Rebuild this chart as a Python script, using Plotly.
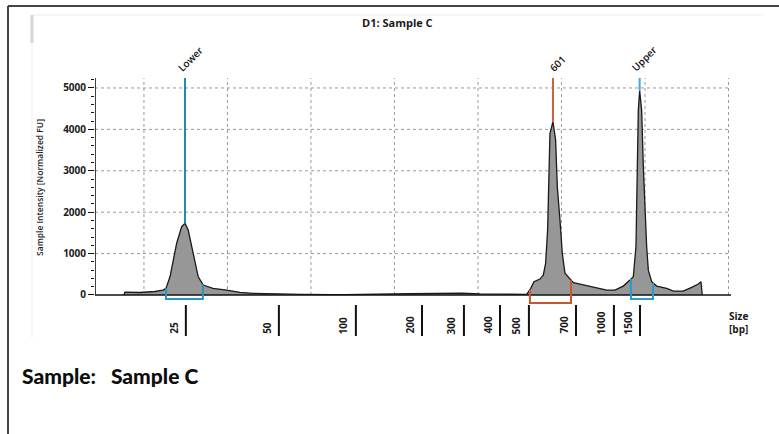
import numpy as np
import plotly.graph_objects as go

# Electropherogram trace: migration time (s) vs. normalized fluorescence
mig_time = [18.80, 18.86, 19.76, 20.66, 21.14, 21.32, 21.56, 21.74, 21.96, 22.26,
            22.46, 22.65, 22.86, 23.05, 23.25, 23.55, 24.13, 24.95, 25.75, 26.53,
            28.32, 29.34, 31.32, 31.56, 32.04, 35.93, 37.72, 39.04, 40.12, 41.92,
            42.92, 43.16, 43.35, 43.71, 43.91, 44.05, 44.17, 44.31, 44.49, 44.65,
            44.75, 44.91, 45.05, 45.21, 45.51, 45.71, 46.11, 46.91, 47.71, 48.20,
            48.70, 49.10, 49.30, 49.46, 49.60, 49.68, 49.80, 49.90, 50.00, 50.10,
            50.20, 50.40, 50.70, 51.30, 51.70, 52.29, 52.80, 53.19, 53.35, 53.43]
intensity = [0, 70, 60, 85, 120, 160, 440, 845, 1250, 1650,
             1730, 1570, 1170, 765, 440, 240, 160, 120, 65, 40,
             20, 15, 10, 15, 10, 30, 35, 45, 25, 10,
             15, 160, 320, 385, 480, 765, 1570, 3900, 4185, 3740,
             2615, 1810, 1005, 525, 380, 300, 265, 200, 120, 120,
             215, 360, 440, 1170, 4470, 4935, 4470, 3100, 1975, 1170,
             600, 320, 215, 160, 95, 95, 185, 265, 320, 0]

# Sizing ladder (bp) and its migration times
ladder_bp = ["25", "50", "100", "200", "300", "400", "500", "700", "1000", "1500"]
ladder_time = [22.51, 28.08, 32.69, 36.65, 39.16, 41.32, 43.05, 45.87, 48.14, 49.70]

# Called peaks
peak_names = ["Lower", "601", "Upper"]
peak_time = [22.46, 44.49, 49.68]
peak_height = [1730, 4185, 4935]
peak_colors = ["#1f8ea6", "#c8643b", "#3aa8d4"]

# Integration windows around each peak
win_start = [21.32, 43.11, 49.16]
win_end = [23.53, 45.57, 50.48]
win_depth = [-97, -193, -97]
win_colors = ["#2b93c2", "#c5582f", "#2a9ad0"]

y_ticks = [0, 1000, 2000, 3000, 4000, 5000]
grid_time = [20, 25, 30, 35, 40, 45, 50, 55]

X_MIN, X_MAX = 17.07, 55.15
Y_MIN, Y_MAX = -1087, 5241
Y_TOP = 5241

fig = go.Figure()
fig.add_trace(go.Scatter(
    x=mig_time, y=intensity, mode="lines", fill="tozeroy",
    fillcolor="#979797", line=dict(color="#1a1a1a", width=1.3),
    hoverinfo="skip", showlegend=False,
))

shapes = []
grid_style = dict(color="#9a9a9a", width=1, dash="dot")
for g in grid_time:
    shapes.append(dict(type="line", xref="x", yref="y", x0=g, x1=g, y0=0, y1=Y_TOP,
                       line=grid_style, layer="below"))
for t in y_ticks[1:]:
    shapes.append(dict(type="line", xref="x", yref="y", x0=X_MIN, x1=55.0, y0=t, y1=t,
                       line=grid_style, layer="below"))

# axes lines
shapes.append(dict(type="line", xref="x", yref="y", x0=X_MIN, x1=X_MAX, y0=0, y1=0,
                   line=dict(color="#111", width=1.6)))
shapes.append(dict(type="line", xref="x", yref="y", x0=X_MIN, x1=X_MIN, y0=0, y1=Y_TOP,
                   line=dict(color="#111", width=1.6)))

# ladder ticks below the baseline
for t in ladder_time:
    shapes.append(dict(type="line", xref="x", yref="y", x0=t, x1=t, y0=-242, y1=-990,
                       line=dict(color="#111", width=2)))

# peak marker lines
for pt, ph, pc in zip(peak_time, peak_height, peak_colors):
    shapes.append(dict(type="line", xref="x", yref="y", x0=pt, x1=pt, y0=ph, y1=Y_TOP,
                       line=dict(color=pc, width=2)))

# integration windows
for ws, we, wd, wc in zip(win_start, win_end, win_depth, win_colors):
    ys = float(np.interp(ws, mig_time, intensity))
    ye = float(np.interp(we, mig_time, intensity))
    shapes.append(dict(type="path", xref="x", yref="y",
                       path=f"M {ws},{ys} L {ws},{wd} L {we},{wd} L {we},{ye}",
                       line=dict(color=wc, width=2)))

# page frame and panel outline (paper coords)
shapes.append(dict(type="line", xref="paper", yref="paper", x0=-0.1368, x1=-0.1368,
                   y0=1.2748, y1=-0.40, line=dict(color="#454545", width=2)))
shapes.append(dict(type="line", xref="paper", yref="paper", x0=-0.1368, x1=1.10,
                   y0=1.2748, y1=1.2748, line=dict(color="#454545", width=2)))
shapes.append(dict(type="line", xref="paper", yref="paper", x0=-0.0991, x1=1.0503,
                   y0=1.2405, y1=1.2405, line=dict(color="#eeeeee", width=1)))
shapes.append(dict(type="line", xref="paper", yref="paper", x0=-0.0991, x1=-0.0991,
                   y0=1.2405, y1=0.0076, line=dict(color="#efefef", width=1)))
shapes.append(dict(type="line", xref="paper", yref="paper", x0=-0.0991, x1=-0.0991,
                   y0=1.2405, y1=1.1336, line=dict(color="#d6d6d6", width=3)))

annotations = []
bold = dict(family="Open Sans", size=10, color="#1a1a1a", weight=700)
for lbl, t in zip(ladder_bp, ladder_time):
    annotations.append(dict(x=t, y=-990, xref="x", yref="y", text=lbl, textangle=-90,
                            showarrow=False, xanchor="center", yanchor="bottom",
                            xshift=-12, font=bold))
for name, pt in zip(peak_names, peak_time):
    annotations.append(dict(x=pt, y=Y_TOP, xref="x", yref="y", text=name, textangle=-45,
                            showarrow=False, xanchor="center", yanchor="bottom",
                            xshift=5, yshift=1,
                            font=dict(family="Open Sans", size=10, color="#111",
                                      weight=600)))
annotations.append(dict(x=54.91, y=-290, xref="x", yref="y", text="Size<br>[bp]",
                        showarrow=False, xanchor="left", yanchor="top", align="left",
                        font=bold))
annotations.append(dict(x=0.476, y=1.2137, xref="paper", yref="paper", text="D1: Sample C",
                        showarrow=False, xanchor="center", yanchor="middle",
                        font=dict(family="Open Sans", size=11, color="#1a1a1a", weight=700)))
annotations.append(dict(x=-0.0865, y=0.584, xref="paper", yref="paper",
                        text="Sample Intensity [Normalized FU]", textangle=-90,
                        showarrow=False, xanchor="center", yanchor="middle",
                        font=dict(family="Open Sans", size=8.5, color="#222", weight=600)))
annotations.append(dict(x=-0.1179, y=-0.1374, xref="paper", yref="paper",
                        text="Sample:\u00a0\u00a0 Sample C",
                        showarrow=False, xanchor="left", yanchor="middle",
                        font=dict(family="Lato", size=21, color="#0d0d0d", weight=900)))

fig.update_layout(
    width=779, height=434,
    margin=dict(l=95, r=48, t=78, b=94),
    paper_bgcolor="white", plot_bgcolor="white",
    xaxis=dict(range=[X_MIN, X_MAX], visible=False, fixedrange=True),
    yaxis=dict(range=[Y_MIN, Y_MAX], showgrid=False, zeroline=False, showline=False,
               tickmode="array", tickvals=y_ticks, ticktext=[str(v) for v in y_ticks],
               ticks="outside", ticklen=6, tickwidth=1.3, tickcolor="#111",
               tickfont=dict(family="Open Sans", size=10, color="#1a1a1a", weight=700),
               minor=dict(tickmode="array", tickvals=list(range(200, 5201, 200)),
                          ticks="outside", ticklen=3, tickcolor="#111", showgrid=False),
               fixedrange=True),
    shapes=shapes, annotations=annotations, showlegend=False,
)

fig.write_html("out.html")
